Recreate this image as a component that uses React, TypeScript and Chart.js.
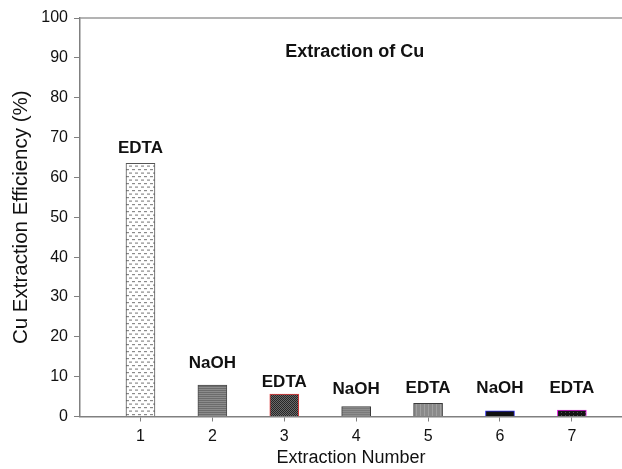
import React, { useEffect, useRef } from "react";
import { Chart, registerables } from "chart.js";

Chart.register(...registerables);

const EXTRACTIONS = [1, 2, 3, 4, 5, 6, 7];
const EFFICIENCY = [63.5, 7.9, 5.6, 2.5, 3.3, 1.4, 1.6];
const AGENTS = ["EDTA", "NaOH", "EDTA", "NaOH", "EDTA", "NaOH", "EDTA"];
const LABEL_Y = [67.3, 13.3, 8.5, 6.8, 7.1, 7.1, 7.1];
const Y_TICKS = [0, 10, 20, 30, 40, 50, 60, 70, 80, 90, 100];
const TITLE = "Extraction of Cu";
const TITLE_POS = { x: 3.98, y: 91.5 };
const X_MIN = 0.159;
const X_MAX = 7.697;

const FONT = "'Liberation Sans', Arial, Helvetica, sans-serif";

function makePattern(w: number, h: number, draw: (g: CanvasRenderingContext2D) => void) {
  const c = document.createElement("canvas");
  c.width = w;
  c.height = h;
  const g = c.getContext("2d")!;
  draw(g);
  return g.createPattern(c, "repeat")!;
}

function buildFills() {
  const p1 = makePattern(6, 7, (g) => {
    g.fillStyle = "#ffffff";
    g.fillRect(0, 0, 6, 7);
    g.fillStyle = "#8a8a8a";
    g.fillRect(0, 1, 3, 1.2);
    g.fillRect(3, 4.5, 3, 1.2);
  });
  const p2 = makePattern(1, 2, (g) => {
    g.fillStyle = "#6c6c6c";
    g.fillRect(0, 0, 1, 1);
    g.fillStyle = "#8c8c8c";
    g.fillRect(0, 1, 1, 1);
  });
  const p3 = makePattern(2, 2, (g) => {
    g.fillStyle = "#6a6a6a";
    g.fillRect(0, 0, 2, 2);
    g.fillStyle = "#262626";
    g.fillRect(0, 0, 1, 1);
    g.fillRect(1, 1, 1, 1);
  });
  const p4 = makePattern(1, 2, (g) => {
    g.fillStyle = "#7a7a7a";
    g.fillRect(0, 0, 1, 1);
    g.fillStyle = "#8e8e8e";
    g.fillRect(0, 1, 1, 1);
  });
  const p5 = makePattern(4, 1, (g) => {
    g.fillStyle = "#8a8a8a";
    g.fillRect(0, 0, 4, 1);
    g.fillStyle = "#a0a0a0";
    g.fillRect(0, 0, 1, 1);
  });
  const p6 = "#101010";
  const p7 = makePattern(4, 3, (g) => {
    g.fillStyle = "#141414";
    g.fillRect(0, 0, 4, 3);
    g.fillStyle = "#555555";
    g.fillRect(1, 1, 1, 1);
  });
  return [p1, p2, p3, p4, p5, p6, p7];
}

const BORDERS = ["#555555", "#4a4a4a", "#e03a3a", "#3a3a3a", "#3a3a3a", "#2a2ae8", "#e020e0"];

export default function App() {
  const ref = useRef<HTMLCanvasElement | null>(null);

  useEffect(() => {
    if (!ref.current) return;
    const fills = buildFills();

    const labelPlugin = {
      id: "barLabels",
      afterDatasetsDraw(chart: any) {
        const ctx = chart.ctx;
        const xs = chart.scales.x;
        const ys = chart.scales.y;
        ctx.save();
        ctx.fillStyle = "#111111";
        ctx.textAlign = "center";
        ctx.textBaseline = "middle";
        ctx.font = `bold 17px ${FONT}`;
        EXTRACTIONS.forEach((x, i) => {
          ctx.fillText(AGENTS[i], xs.getPixelForValue(x), ys.getPixelForValue(LABEL_Y[i]));
        });
        ctx.font = `bold 18px ${FONT}`;
        ctx.fillText(TITLE, xs.getPixelForValue(TITLE_POS.x), ys.getPixelForValue(TITLE_POS.y));
        const a = chart.chartArea;
        ctx.strokeStyle = "#9a9a9a";
        ctx.lineWidth = 1.5;
        ctx.beginPath();
        ctx.moveTo(a.left, a.top);
        ctx.lineTo(a.right, a.top);
        ctx.stroke();
        ctx.restore();
      },
    };

    const chart = new Chart(ref.current, {
      type: "bar",
      data: {
        datasets: [
          {
            data: EXTRACTIONS.map((x, i) => ({ x, y: EFFICIENCY[i] })),
            backgroundColor: fills as any,
            borderColor: BORDERS,
            borderWidth: 1,
            barThickness: 29,
          },
        ],
      },
      options: {
        animation: false,
        responsive: false,
        maintainAspectRatio: false,
        layout: { padding: { top: 18, right: 0, left: 0, bottom: 0 } },
        plugins: { legend: { display: false }, tooltip: { enabled: false }, title: { display: false } },
        scales: {
          x: {
            type: "linear",
            offset: false,
            min: X_MIN,
            max: X_MAX,
            afterBuildTicks: (s: any) => {
              s.ticks = EXTRACTIONS.map((v) => ({ value: v }));
            },
            afterFit: (s: any) => {
              s.height = 52.5;
            },
            grid: { offset: false, drawOnChartArea: false, drawTicks: true, tickLength: 5, color: "#808080" },
            border: { display: true, color: "#808080", width: 1.5 },
            ticks: {
              padding: 5,
              color: "#111111",
              font: { family: FONT, size: 16 },
              callback: (v: any) => String(v),
              maxRotation: 0,
              autoSkip: false,
            },
            title: {
              display: true,
              text: "Extraction Number",
              color: "#111111",
              font: { family: FONT, size: 18 },
              padding: { top: 0, bottom: 0 },
            },
          },
          y: {
            min: 0,
            max: 100,
            afterBuildTicks: (s: any) => {
              s.ticks = Y_TICKS.map((v) => ({ value: v }));
            },
            afterFit: (s: any) => {
              s.width = 80;
            },
            grid: { drawOnChartArea: false, drawTicks: true, tickLength: 6, color: "#808080" },
            border: { display: true, color: "#808080", width: 1.5 },
            ticks: {
              padding: 6,
              color: "#111111",
              font: { family: FONT, size: 16 },
            },
            title: {
              display: true,
              text: "Cu Extraction Efficiency (%)",
              color: "#111111",
              font: { family: FONT, size: 20.5 },
              padding: { top: 9, bottom: 0 },
            },
          },
        },
      },
      plugins: [labelPlugin],
    } as any);

    return () => chart.destroy();
  }, []);

  return (
    <div style={{ position: "absolute", left: 0, top: 0, width: 622, height: 469, background: "#ffffff" }}>
      <canvas ref={ref} width={622} height={469} style={{ width: 622, height: 469, display: "block" }} />
    </div>
  );
}
